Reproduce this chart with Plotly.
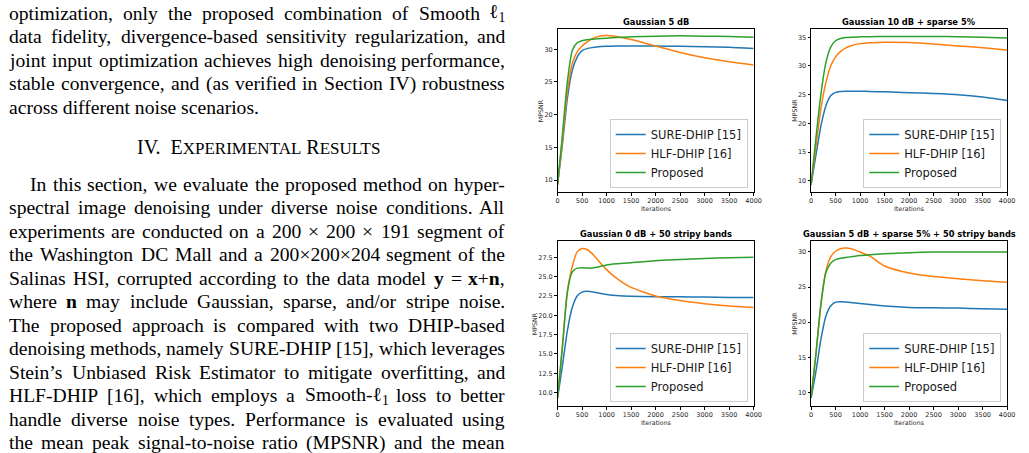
import re
import plotly.graph_objects as go

W, H = 1029, 453

# ---------------- data ----------------
ITER = [0, 100, 200, 300, 400, 500, 600, 700, 800, 1000, 1200, 1500, 2000, 2500, 3000, 3500, 4000]
SERIES = ["SURE-DHIP [15]", "HLF-DHIP [16]", "Proposed"]
COLORS = ["#1f77b4", "#ff7f0e", "#2ca02c"]

TITLES = ["Gaussian 5 dB", "Gaussian 10 dB + sparse 5%",
          "Gaussian 0 dB + 50 stripy bands", "Gaussian 5 dB + sparse 5% + 50 stripy bands"]

tl_sure = [9.3, 15.5, 22.5, 26.8, 28.8, 29.8, 30.1, 30.25, 30.35, 30.45, 30.5, 30.5, 30.5, 30.45, 30.4, 30.3, 30.1]
tl_hlf = [9.3, 16.0, 23.5, 27.8, 29.6, 30.5, 31.1, 31.6, 31.9, 32.1, 31.95, 31.5, 30.5, 29.5, 28.7, 28.1, 27.6]
tl_prop = [9.3, 17.0, 25.0, 29.8, 31.0, 31.3, 31.45, 31.55, 31.6, 31.7, 31.8, 31.9, 32.0, 32.05, 32.0, 31.95, 31.85]

tr_sure = [9.3, 14.5, 19.5, 23.0, 24.8, 25.4, 25.55, 25.6, 25.6, 25.6, 25.55, 25.5, 25.35, 25.2, 25.0, 24.6, 24.0]
tr_hlf = [9.3, 16.0, 22.5, 27.0, 30.0, 31.6, 32.5, 33.1, 33.5, 33.9, 34.05, 34.15, 34.1, 33.85, 33.5, 33.2, 32.8]
tr_prop = [9.3, 17.5, 25.0, 30.5, 33.3, 34.4, 34.8, 34.95, 35.0, 35.1, 35.12, 35.15, 35.16, 35.15, 35.1, 35.0, 34.9]

bl_sure = [9.3, 13.5, 18.0, 21.0, 22.5, 23.0, 23.1, 23.05, 22.9, 22.7, 22.55, 22.45, 22.4, 22.4, 22.35, 22.3, 22.3]
bl_hlf = [9.3, 16.0, 23.0, 26.3, 28.2, 28.63, 28.5, 28.0, 27.3, 25.9, 24.8, 23.6, 22.5, 21.9, 21.5, 21.2, 21.0]
bl_prop = [9.3, 16.0, 23.0, 25.6, 26.1, 26.15, 26.1, 26.1, 26.2, 26.5, 26.65, 26.8, 27.05, 27.2, 27.35, 27.45, 27.5]

br_sure = [9.2, 13.0, 17.5, 20.8, 22.3, 22.85, 22.9, 22.88, 22.8, 22.65, 22.5, 22.3, 22.1, 22.05, 22.0, 21.9, 21.85]
br_hlf = [9.2, 15.5, 22.5, 27.2, 29.3, 30.1, 30.45, 30.55, 30.5, 30.0, 29.4, 28.0, 27.0, 26.5, 26.2, 25.9, 25.7]
br_prop = [9.2, 15.5, 22.5, 27.0, 28.4, 28.9, 29.1, 29.2, 29.3, 29.5, 29.6, 29.75, 29.9, 30.0, 30.0, 30.0, 30.0]

PANELS = [
    [tl_sure, tl_hlf, tl_prop],
    [tr_sure, tr_hlf, tr_prop],
    [bl_sure, bl_hlf, bl_prop],
    [br_sure, br_hlf, br_prop],
]
Y_TICKS = [
    [10, 15, 20, 25, 30],
    [10, 15, 20, 25, 30, 35],
    [10.0, 12.5, 15.0, 17.5, 20.0, 22.5, 25.0, 27.5],
    [10, 15, 20, 25, 30],
]
X_TICKS = [0, 500, 1000, 1500, 2000, 2500, 3000, 3500, 4000]

PARA1 = [
    "optimization, only the proposed combination of Smooth ℓ<sub>1</sub>",
    "data fidelity, divergence-based sensitivity regularization, and",
    "joint input optimization achieves high denoising performance,",
    "stable convergence, and (as verified in Section IV) robustness",
]
PARA1_LAST = "across different noise scenarios."
HEADING = ("IV.&nbsp; E<span style=\"font-size:17px\">XPERIMENTAL</span> "
           "R<span style=\"font-size:17px\">ESULTS</span>")
PARA2 = [
    "In this section, we evaluate the proposed method on hyper-",
    "spectral image denoising under diverse noise conditions. All",
    "experiments are conducted on a 200 × 200 × 191 segment of",
    "the Washington DC Mall and a 200×200×204 segment of the",
    "Salinas HSI, corrupted according to the data model <b>y</b> = <b>x</b>+<b>n</b>,",
    "where <b>n</b> may include Gaussian, sparse, and/or stripe noise.",
    "The proposed approach is compared with two DHIP-based",
    "denoising methods, namely SURE-DHIP [15], which leverages",
    "Stein’s Unbiased Risk Estimator to mitigate overfitting, and",
    "HLF-DHIP [16], which employs a Smooth-ℓ<sub>1</sub> loss to better",
    "handle diverse noise types. Performance is evaluated using",
    "the mean peak signal-to-noise ratio (MPSNR) and the mean",
]

# ---------------- layout geometry (pixels) ----------------
BOXES = [(561, 759, 29, 192), (817, 1015, 29, 192), (561, 759, 241, 406), (817, 1015, 241, 406)]
Y_RANGES = [[8.17, 33.1], [8.03, 36.45], [8.28, 29.6], [8.06, 31.56]]
YLAB_X = [544, 800, 538, 800]


def px(x):
    return x / W


def py(y):
    return 1 - y / H


fig = go.Figure()
layout = dict(width=W, height=H, margin=dict(l=0, r=0, t=0, b=0), autosize=False,
              paper_bgcolor="white", plot_bgcolor="white", showlegend=True)
annotations = []

tick_font = dict(family="DejaVu Sans", size=6.5, color="#262626")
for i, (x0, x1, y0, y1) in enumerate(BOXES):
    k = "" if i == 0 else str(i + 1)
    leg = "legend" if i == 0 else "legend" + str(i + 1)
    for s, name in enumerate(SERIES):
        fig.add_trace(go.Scatter(
            x=ITER, y=PANELS[i][s], mode="lines", name=name,
            line=dict(color=COLORS[s], width=1.5, shape="spline", smoothing=0.6),
            xaxis="x" + k, yaxis="y" + k, legend=leg, showlegend=True,
        ))
    common = dict(showline=True, mirror=True, linecolor="black", linewidth=1,
                  ticks="outside", ticklen=2.5, tickwidth=1, tickcolor="black",
                  tickfont=tick_font, showgrid=False, zeroline=False)
    layout["xaxis" + k] = dict(domain=[px(x0), px(x1)], range=[0, 4000], tickvals=X_TICKS,
                               anchor="y" + k, **common)
    yt = Y_TICKS[i]
    layout["yaxis" + k] = dict(domain=[py(y1), py(y0)], range=Y_RANGES[i], tickvals=yt,
                               tickformat=".1f" if i == 2 else "d",
                               anchor="x" + k, **common)
    layout[leg] = dict(x=px(x1 - 6), y=py(y1 - 4), xanchor="right", yanchor="bottom",
                       bgcolor="rgba(255,255,255,0.85)", bordercolor="#cccccc", borderwidth=1,
                       font=dict(family="DejaVu Sans", size=11.5, color="#1a1a1a"),
                       itemwidth=30, tracegroupgap=0)
    # title
    annotations.append(dict(text="<b>" + TITLES[i] + "</b>", x=px((x0 + x1) / 2), y=py(y0 - 7),
                            xref="paper", yref="paper", showarrow=False, xanchor="center",
                            yanchor="middle", font=dict(family="DejaVu Sans", size=8.3, color="black")))
    annotations.append(dict(text="Iterations", x=px((x0 + x1) / 2), y=py(y1 + 16.5),
                            xref="paper", yref="paper", showarrow=False, xanchor="center",
                            yanchor="middle", font=dict(family="DejaVu Sans", size=6.3, color="#262626")))
    annotations.append(dict(text="MPSNR", x=px(YLAB_X[i]), y=py((y0 + y1) / 2), textangle=-90,
                            xref="paper", yref="paper", showarrow=False, xanchor="center",
                            yanchor="middle", font=dict(family="DejaVu Sans", size=6.3, color="#262626")))

# ---------------- left column text ----------------
FS = 19.6
TW = dict(zip("abcdefghijklmnopqrstuvwxyz",
              [444, 500, 444, 500, 444, 333, 500, 500, 278, 278, 500, 278, 778, 500, 500, 500, 500, 333, 389, 278, 500, 500, 722, 500, 500, 444]))
TW.update(dict(zip("ABCDEFGHIJKLMNOPQRSTUVWXYZ",
                   [722, 667, 667, 722, 611, 556, 722, 722, 333, 389, 722, 611, 889, 722, 722, 556, 722, 667, 556, 611, 722, 722, 944, 722, 722, 611])))
TW.update({c: 500 for c in "0123456789"})
TW.update({",": 250, ".": 250, "-": 333, "(": 333, ")": 333, "[": 333, "]": 333, "’": 333,
           "/": 278, "×": 564, "=": 564, "+": 564, " ": 250, ":": 278, "ℓ": 420, "%": 833})


def tok_w(t):
    w = 0.0
    for m in re.finditer(r"<sub>(.*?)</sub>", t):
        w += 0.7 * sum(TW.get(c, 500) for c in m.group(1))
    t = re.sub(r"<sub>.*?</sub>", "", t)
    t = re.sub(r"<[^>]+>", "", t)
    w += sum(TW.get(c, 500) for c in t)
    return w * FS / 1000.0


LEFT, RIGHT = 7, 508
BASE_OFF = 6.6  # baseline -> box centre


def add_word(text, x, base, anchor="left"):
    annotations.append(dict(text=text, x=px(x), y=py(base - BASE_OFF), xref="paper", yref="paper",
                            showarrow=False, xanchor=anchor, yanchor="middle", borderpad=0,
                            borderwidth=0,
                            font=dict(family="Liberation Serif", size=FS, color="black")))


def justify(line, base, start=LEFT):
    toks = line.split(" ")
    widths = [tok_w(t) for t in toks]
    gap = (RIGHT - start - sum(widths)) / (len(toks) - 1)
    x = start
    for j, t in enumerate(toks):
        if j == len(toks) - 1:
            add_word(t, RIGHT, base, "right")
        else:
            add_word(t, x, base)
        x += widths[j] + gap


SP = 23.5
for j, line in enumerate(PARA1):
    justify(line, 20 + j * SP)
add_word(PARA1_LAST, LEFT, 20 + 4 * SP)
annotations.append(dict(text=HEADING, x=px(259), y=py(154 - BASE_OFF), xref="paper", yref="paper",
                        showarrow=False, xanchor="center", yanchor="middle", borderpad=0, borderwidth=0,
                        font=dict(family="Liberation Serif", size=20, color="black")))
for j, line in enumerate(PARA2):
    justify(line, 191 + j * SP, start=28 if j == 0 else LEFT)

layout["annotations"] = annotations
fig.update_layout(**layout)
fig.write_html("out.html")
